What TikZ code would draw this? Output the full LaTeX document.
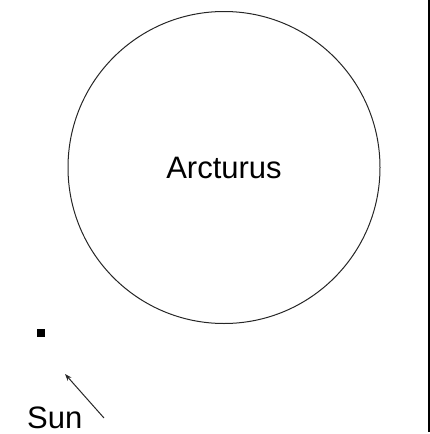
\documentclass[tikz,border=0pt]{standalone}
\usepackage{fontspec}
\setmainfont{Liberation Sans}
\usetikzlibrary{arrows.meta}
\begin{document}
\begin{tikzpicture}[x=1pt,y=-1pt,
  lbl/.style={font=\fontsize{31}{31}\selectfont, inner sep=0pt, anchor=base},
  thin line/.style={draw=black!85, line width=1pt}]
\useasboundingbox (0,0) rectangle (430,434);
\node[circle, thin line, minimum size=312pt, inner sep=0pt] (arct) at (224,167.5) {};
\node[lbl] (arctl) at (224,178.5) {Arcturus};
\node[fill=black, minimum size=8pt, inner sep=0pt] (sq) at (40.5,332.5) {};
\node[lbl, anchor=base west] (sun) at (27,428) {Sun};
\coordinate (tail) at (104,418);
\coordinate (head) at (65,374);
\draw[thin line, -{Stealth[length=7pt,width=5pt]}] (tail) -- (head);
\coordinate (vt) at (429,0);
\coordinate (vb) at (429,432);
\draw[line width=2pt, black] (vt) -- (vb);
\end{tikzpicture}
\end{document}
